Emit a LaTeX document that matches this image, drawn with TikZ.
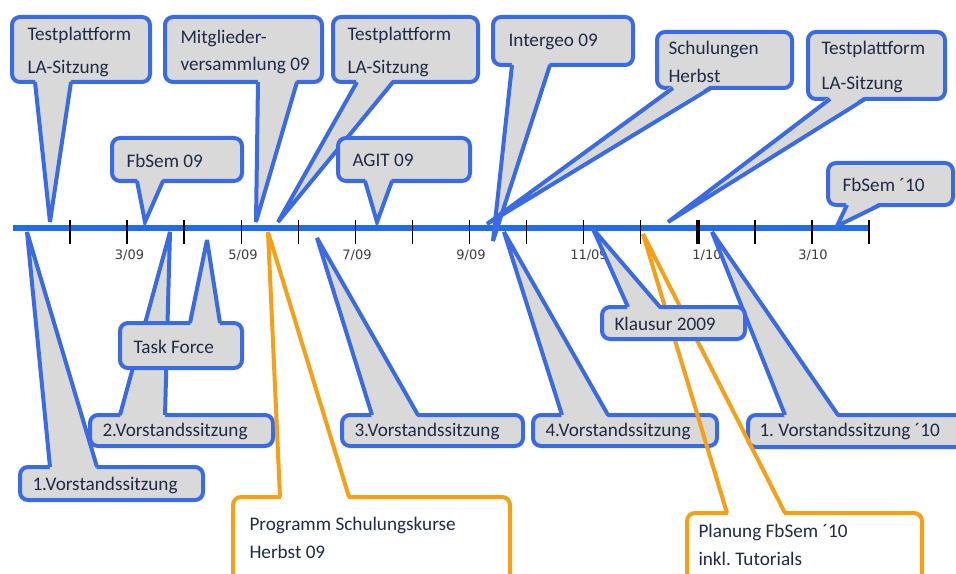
\documentclass[tikz,border=0pt]{standalone}
\usepackage{fontspec}
\setmainfont{Carlito}
\newfontfamily\datefont{DejaVu Sans}
\frenchspacing

\tikzset{
	callbox/.style={draw={rgb, 255:red, 59; green, 107; blue, 227 }, fill={rgb, 255:red, 217; green, 217; blue, 217 }, line width=3pt, rounded corners=6pt},
	calltail/.style={fill={rgb, 255:red, 217; green, 217; blue, 217 }},
	callside/.style={draw={rgb, 255:red, 59; green, 107; blue, 227 }, line width=3pt, line join=miter, miter limit=5},
	planbox/.style={callbox, draw={rgb, 255:red, 245; green, 160; blue, 22 }, fill=white},
	plantail/.style={fill=white},
	planside/.style={callside, draw={rgb, 255:red, 245; green, 160; blue, 22 }},
	calltext/.style={anchor=west, inner sep=0pt, text={rgb, 255:red, 30; green, 42; blue, 72 }, font=\fontsize{14.4}{17}\selectfont},
	datetext/.style={inner sep=0pt, text={rgb, 255:red, 60; green, 60; blue, 60 }, font=\datefont\fontsize{9.75}{12}\selectfont}}
\tikzset{every picture/.style={line width=0.75pt}}

\begin{document}
\begin{tikzpicture}[x=0.75pt,y=0.75pt,yscale=-1,xscale=1]
	\useasboundingbox (0,0) rectangle (956,574);
	\clip (0,0) rectangle (956,574);

	%Timeline
	\draw [draw={rgb, 255:red, 33; green, 108; blue, 236 }, line width=4.5pt] (13,228) -- (870,228) ;
	\foreach \k in {0,...,14} {
		\draw [line width=1pt] ({70+57.07*\k},220) -- ({70+57.07*\k},244) ;
	}
	\draw [line width=2.6pt] (697.8,220) -- (697.8,244) ;

	% Date labels
	\draw (129.5,255) node (d309) [datetext] {3/09};
	\draw (243,255) node (d509) [datetext] {5/09};
	\draw (357,255) node (d709) [datetext] {7/09};
	\draw (471,255) node (d909) [datetext] {9/09};
	\draw (589,255) node (d1109) [datetext] {11/09};
	\draw (707,255) node (d110) [datetext] {1/10};
	\draw (813,255) node (d310) [datetext] {3/10};

	%Shape: Callout [Testplattform 1]
	\draw [callbox] (12,17) rectangle (150,82) ;
	\fill [calltail] (35,79) -- (50,222) -- (71,79) -- cycle ;
	\draw [callside] (35,82) -- (50,222) -- (71,82) ;
	%Shape: Callout [FbSem 09]
	\draw [callbox] (112,138) rectangle (242,181) ;
	\fill [calltail] (137,178) -- (145,222) -- (163,178) -- cycle ;
	\draw [callside] (137,181) -- (145,222) -- (163,181) ;
	%Shape: Callout [Mitgliederversammlung]
	\draw [callbox] (165,17) rectangle (322,82) ;
	\fill [calltail] (258,79) -- (256,222) -- (297,79) -- cycle ;
	\draw [callside] (258,82) -- (256,222) -- (297,82) ;
	%Shape: Callout [Testplattform 2]
	\draw [callbox] (333,17) rectangle (478,82) ;
	\fill [calltail] (357,79) -- (278,222) -- (393,79) -- cycle ;
	\draw [callside] (357,82) -- (278,222) -- (393,82) ;
	%Shape: Callout [AGIT]
	\draw [callbox] (338,138) rectangle (470,181) ;
	\fill [calltail] (365,178) -- (377,222) -- (392,178) -- cycle ;
	\draw [callside] (365,181) -- (377,222) -- (392,181) ;
	%Shape: Callout [Intergeo]
	\draw [callbox] (493,17) rectangle (633,65) ;
	\fill [calltail] (512,62) -- (493,241) -- (550,62) -- cycle ;
	\draw [callside] (512,65) -- (493,241) -- (550,65) ;
	%Shape: Callout [Schulungen]
	\draw [callbox] (657,32) rectangle (792,88) ;
	\fill [calltail] (673,85) -- (487,224) -- (711,85) -- cycle ;
	\draw [callside] (673,88) -- (487,224) -- (711,88) ;
	%Shape: Callout [Testplattform 3]
	\draw [callbox] (808,32) rectangle (945,99) ;
	\fill [calltail] (830,96) -- (668,222) -- (865,96) -- cycle ;
	\draw [callside] (830,99) -- (668,222) -- (865,99) ;
	%Shape: Callout [FbSem 10]
	\draw [callbox] (828,163) rectangle (953,205) ;
	\fill [calltail] (847,202) -- (837,226) -- (880,202) -- cycle ;
	\draw [callside] (847,205) -- (837,226) -- (880,205) ;

	%Shape: Callout [1.Vorstandssitzung]
	\draw [callbox] (20,467) rectangle (203,500) ;
	\fill [calltail] (50,470) -- (27,232) -- (97,470) -- cycle ;
	\draw [callside] (50,467) -- (27,232) -- (97,467) ;
	%Shape: Callout [2.Vorstandssitzung]
	\draw [callbox] (90,415) rectangle (273,446) ;
	\fill [calltail] (120,418) -- (170,232) -- (165,418) -- cycle ;
	\draw [callside] (120,415) -- (170,232) -- (165,415) ;
	%Shape: Callout [Task Force]
	\draw [callbox] (120,323) rectangle (242,368) ;
	\fill [calltail] (190,326) -- (207,240) -- (220,326) -- cycle ;
	\draw [callside] (190,323) -- (207,240) -- (220,323) ;
	%Shape: Callout [Programm Schulungskurse]
	\draw [planbox] (233,497) rectangle (510,595) ;
	\fill [plantail] (281,494.5) rectangle (348,499.5) ;
	\draw [planside] (280,497) -- (268,232) -- (349,497) ;
	%Shape: Callout [3.Vorstandssitzung]
	\draw [callbox] (342,415) rectangle (523,446) ;
	\fill [calltail] (372,418) -- (317,238) -- (418,418) -- cycle ;
	\draw [callside] (372,415) -- (317,238) -- (418,415) ;
	%Shape: Callout [4.Vorstandssitzung]
	\draw [callbox] (533,415) rectangle (717,446) ;
	\fill [calltail] (562,418) -- (504,232) -- (608,418) -- cycle ;
	\draw [callside] (562,415) -- (504,232) -- (608,415) ;
	%Shape: Callout [1.Vorstandssitzung 10]
	\draw [callbox] (748,415) rectangle (975,447) ;
	\fill [calltail] (785,418) -- (712,232) -- (838,418) -- cycle ;
	\draw [callside] (785,415) -- (712,232) -- (838,415) ;
	%Shape: Callout [Planung FbSem]
	\draw [planbox] (687,513) rectangle (922,595) ;
	\fill [plantail] (728,510.5) rectangle (784,515.5) ;
	\draw [planside] (727,513) -- (643,234) -- (785,513) ;
	%Shape: Callout [Klausur]
	\draw [callbox] (602,307) rectangle (745,339) ;
	\fill [calltail] (628,310) -- (593,229) -- (660,310) -- cycle ;
	\draw [callside] (628,307) -- (593,229) -- (660,307) ;

	% Text Node
	\draw (27,35) node (tpa) [calltext] {Testplattform};
	% Text Node
	\draw (27,69) node (tpb) [calltext] {LA-Sitzung};
	% Text Node
	\draw (126,161) node (fb09) [calltext] {FbSem 09};
	% Text Node
	\draw (180,38) node (mva) [calltext] {Mitglieder-};
	% Text Node
	\draw (180,65) node (mvb) [calltext] {versammlung 09};
	% Text Node
	\draw (347,35) node (tpc) [calltext] {Testplattform};
	% Text Node
	\draw (347,69) node (tpd) [calltext] {LA-Sitzung};
	% Text Node
	\draw (352,160) node (agit) [calltext] {AGIT 09};
	% Text Node
	\draw (508,42) node (intergeo) [calltext] {Intergeo 09};
	% Text Node
	\draw (668,49) node (schua) [calltext] {Schulungen};
	% Text Node
	\draw (668,76) node (schub) [calltext] {Herbst};
	% Text Node
	\draw (821,49) node (tpe) [calltext] {Testplattform};
	% Text Node
	\draw (821,85) node (tpf) [calltext] {LA-Sitzung};
	% Text Node
	\draw (842,185) node (fb10) [calltext] {FbSem ´10};
	% Text Node
	\draw (32,485) node (vs1) [calltext] {1.Vorstandssitzung};
	% Text Node
	\draw (102,431) node (vs2) [calltext] {2.Vorstandssitzung};
	% Text Node
	\draw (133,347) node (task) [calltext] {Task Force};
	% Text Node
	\draw (249,525) node (proga) [calltext] {Programm Schulungskurse};
	% Text Node
	\draw (249,552) node (progb) [calltext] {Herbst 09};
	% Text Node
	\draw (354,431) node (vs3) [calltext] {3.Vorstandssitzung};
	% Text Node
	\draw (545,431) node (vs4) [calltext] {4.Vorstandssitzung};
	% Text Node
	\draw (759,431) node (vs10) [calltext] {1. Vorstandssitzung ´10};
	% Text Node
	\draw (698,532) node (plana) [calltext] {Planung FbSem ´10};
	% Text Node
	\draw (698,559) node (planb) [calltext] {inkl. Tutorials};
	% Text Node
	\draw (614,324) node (klausur) [calltext] {Klausur 2009};

\end{tikzpicture}
\end{document}
